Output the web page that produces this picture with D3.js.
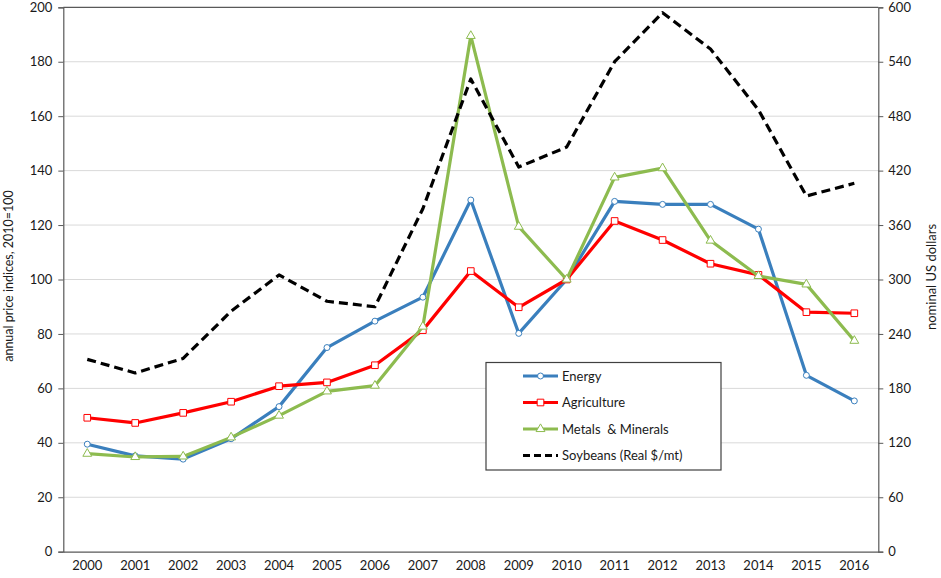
<!DOCTYPE html>
<html>
<head>
<meta charset="utf-8">
<script src="https://d3js.org/d3.v7.min.js"></script>
<style>
  body { margin: 0; background: #fff; }
  svg { display: block; font-family: Lato, "Open Sans", sans-serif; }
</style>
</head>
<body>
<div id="chart"></div>
<script>
// values
const years = ["2000","2001","2002","2003","2004","2005","2006","2007","2008",
               "2009","2010","2011","2012","2013","2014","2015","2016"];
const energy      = [39.5, 35.2, 34.0, 41.5, 53.3, 75.0, 84.7, 93.5, 129.2, 80.2, 100, 128.7, 127.6, 127.6, 118.5, 64.8, 55.4];
const agriculture = [49.2, 47.3, 51.0, 55.1, 60.8, 62.2, 68.5, 81.4, 103.1, 89.8, 100, 121.5, 114.5, 105.8, 101.7, 88.0, 87.6];
const metals      = [36.0, 34.8, 35.0, 42.0, 50.0, 58.9, 61.0, 82.7, 189.5, 119.4, 100, 137.5, 140.9, 114.3, 101.3, 98.2, 77.5];
const soybeans    = [212, 197, 213, 265, 305, 276, 270, 378, 521, 424, 446, 540, 594, 554, 487, 392, 406];
const leftTicks  = [0, 20, 40, 60, 80, 100, 120, 140, 160, 180, 200];
const rightTicks = [0, 60, 120, 180, 240, 300, 360, 420, 480, 540, 600];

const width = 941, height = 578;
const margin = { top: 7.3, right: 62.7, bottom: 26.3, left: 63.3 };

const svg = d3.select("#chart").append("svg")
    .attr("width", width)
    .attr("height", height);

const x = d3.scaleBand()
    .domain(years)
    .range([margin.left, width - margin.right]);

const yLeft = d3.scaleLinear()
    .domain([0, 200])
    .range([height - margin.bottom, margin.top]);

const yRight = d3.scaleLinear()
    .domain([0, 600])
    .range([height - margin.bottom, margin.top]);

const cx = d => x(d) + x.bandwidth() / 2;

// gridlines
svg.append("g")
    .selectAll("line")
    .data(leftTicks.slice(1, -1))
    .join("line")
        .attr("x1", margin.left)
        .attr("x2", width - margin.right)
        .attr("y1", d => yLeft(d))
        .attr("y2", d => yLeft(d))
        .attr("stroke", "#d9d9d9")
        .attr("stroke-width", 1);

// frame: top border
svg.append("line")
    .attr("x1", margin.left).attr("x2", width - margin.right)
    .attr("y1", margin.top).attr("y2", margin.top)
    .attr("stroke", "#595959").attr("stroke-width", 1.2);

// left axis
const gLeft = svg.append("g")
    .attr("transform", `translate(${margin.left},0)`)
    .call(d3.axisLeft(yLeft).tickValues(leftTicks).tickSize(5).tickPadding(6));

// right axis
const gRight = svg.append("g")
    .attr("transform", `translate(${width - margin.right},0)`)
    .call(d3.axisRight(yRight).tickValues(rightTicks).tickSize(5).tickPadding(5));

// bottom axis
const gBottom = svg.append("g")
    .attr("transform", `translate(0,${height - margin.bottom})`)
    .call(d3.axisBottom(x).tickSize(0).tickPadding(9));

[gLeft, gRight, gBottom].forEach(g => {
    g.select(".domain").attr("stroke", "#595959").attr("stroke-width", 1.2);
    g.selectAll(".tick line").attr("stroke", "#595959");
    g.selectAll("text")
        .attr("fill", "#1a1a1a")
        .style("font-size", "13px")
        .style("font-family", "Lato, 'Open Sans', sans-serif");
});

// axis titles
svg.append("text")
    .attr("transform", `translate(12.5,276) rotate(-90)`)
    .attr("text-anchor", "middle")
    .style("font-size", "12.5px")
    .attr("fill", "#1a1a1a")
    .text("annual price indices, 2010=100");

svg.append("text")
    .attr("transform", `translate(935.5,277) rotate(-90)`)
    .attr("text-anchor", "middle")
    .style("font-size", "13px")
    .attr("fill", "#1a1a1a")
    .text("nominal US dollars");

// series
const series = [
    { name: "Energy", values: energy, color: "#3a7fbd", marker: "circle", axis: yLeft },
    { name: "Agriculture", values: agriculture, color: "#ff0000", marker: "square", axis: yLeft },
    { name: "Metals  & Minerals", values: metals, color: "#8dbb4f", marker: "triangle", axis: yLeft },
    { name: "Soybeans (Real $/mt)", values: soybeans, color: "#000000", marker: null, axis: yRight, dash: "9,5" }
];

const symbolFor = {
    circle: d3.symbol().type(d3.symbolCircle).size(28),
    square: d3.symbol().type(d3.symbolSquare).size(44),
    triangle: d3.symbol().type(d3.symbolTriangle).size(34)
};

series.forEach(s => {
    const line = d3.line()
        .x((d, i) => cx(years[i]))
        .y(d => s.axis(d));

    svg.append("path")
        .datum(s.values)
        .attr("d", line)
        .attr("fill", "none")
        .attr("stroke", s.color)
        .attr("stroke-width", 3.2)
        .attr("stroke-linejoin", "round")
        .attr("stroke-dasharray", s.dash || null);

    if (s.marker) {
        svg.append("g")
            .selectAll("path")
            .data(s.values)
            .join("path")
                .attr("d", symbolFor[s.marker])
                .attr("transform", (d, i) => `translate(${cx(years[i])},${s.axis(d)})`)
                .attr("fill", "#fff")
                .attr("stroke", s.color)
                .attr("stroke-width", 1);
    }
});

// legend
const legend = svg.append("g");
legend.append("rect")
    .attr("x", 486).attr("y", 362.5)
    .attr("width", 235).attr("height", 107.5)
    .attr("fill", "#fff")
    .attr("stroke", "#404040")
    .attr("stroke-width", 1.2);

const rows = legend.selectAll("g.row")
    .data(series)
    .join("g")
        .attr("class", "row")
        .attr("transform", (d, i) => `translate(0,${376 + i * 26.5})`);

rows.append("line")
    .attr("x1", 523).attr("x2", 558)
    .attr("y1", 0).attr("y2", 0)
    .attr("stroke", d => d.color)
    .attr("stroke-width", 3.2)
    .attr("stroke-dasharray", d => d.dash ? "7,4" : null);

rows.filter(d => d.marker)
    .append("path")
    .attr("d", d => symbolFor[d.marker](d))
    .attr("transform", "translate(540.5,0)")
    .attr("fill", "#fff")
    .attr("stroke", d => d.color)
    .attr("stroke-width", 1);

rows.append("text")
    .attr("x", 562)
    .attr("y", 0)
    .attr("dy", "0.35em")
    .style("font-size", "13px")
    .style("white-space", "pre")
    .attr("fill", "#1a1a1a")
    .text(d => d.name);
</script>
</body>
</html>
